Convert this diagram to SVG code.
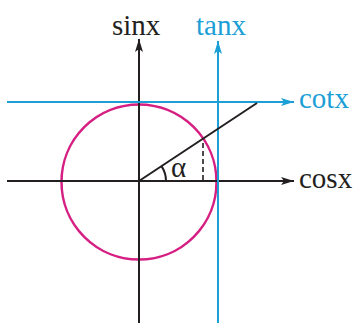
<svg xmlns="http://www.w3.org/2000/svg" width="355" height="323" viewBox="0 0 355 323">
<defs>
<style>
.ax{stroke:#231f20;stroke-width:2;fill:none}
.bl{stroke:#1c9fd6;stroke-width:2;fill:none}
.lbl{font-family:"Liberation Serif","Times New Roman",serif;font-size:29px}
</style>
<marker id="ak" markerWidth="14" markerHeight="10" refX="13" refY="5" orient="auto" markerUnits="userSpaceOnUse">
<path d="M0,1 L13,5 L0,9 L3,5 Z" fill="#231f20"/>
</marker>
<marker id="ab" markerWidth="14" markerHeight="10" refX="13" refY="5" orient="auto" markerUnits="userSpaceOnUse">
<path d="M0,1 L13,5 L0,9 L3,5 Z" fill="#1c9fd6"/>
</marker>
</defs>
<rect width="355" height="323" fill="#ffffff"/>
<g id="circle">
<circle cx="139" cy="182" r="77.5" fill="none" stroke="#d61f82" stroke-width="2.5"/>
</g>
<g id="connectors">
<line class="ax" x1="7" y1="181" x2="294" y2="181" marker-end="url(#ak)"/>
<line class="ax" x1="139" y1="323" x2="139" y2="39" marker-end="url(#ak)"/>
<line class="bl" x1="218" y1="323" x2="218" y2="41" marker-end="url(#ab)"/>
<line class="bl" x1="7" y1="102" x2="294" y2="102" marker-end="url(#ab)"/>
<line class="ax" x1="139" y1="181" x2="257" y2="103"/>
<line x1="203" y1="143" x2="203" y2="181" stroke="#231f20" stroke-width="1.6" stroke-dasharray="5,3"/>
<path class="ax" d="M161.5,166.1 A27,27 0 0 1 166,181" stroke-width="1.5"/>
</g>
<g id="labels" class="lbl">
<text x="112" y="35" fill="#231f20">sinx</text>
<text x="196" y="35" fill="#1c9fd6">tanx</text>
<text x="299" y="108" fill="#1c9fd6">cotx</text>
<text x="299" y="188" fill="#231f20">cosx</text>
<text x="171" y="177" fill="#231f20" font-size="29">α</text>
</g>
</svg>
